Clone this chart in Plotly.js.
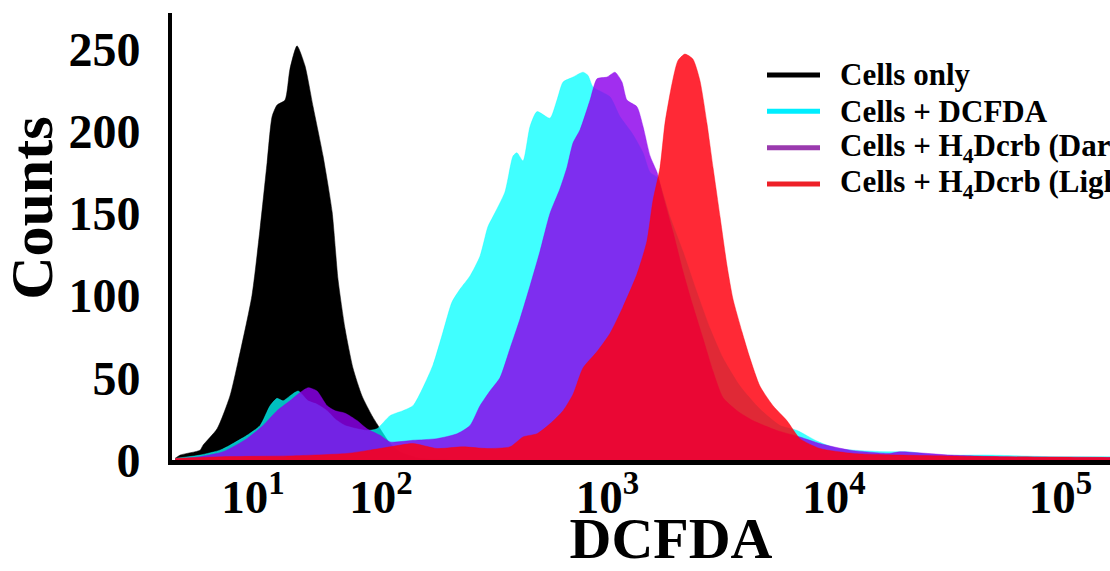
<!DOCTYPE html>
<html>
<head>
<meta charset="utf-8">
<script src="https://cdn.plot.ly/plotly-3.0.1.min.js"></script>
<style>
  html, body { margin: 0; padding: 0; overflow: hidden; background: #fff; }
  #chart { width: 1180px; height: 571px; }
</style>
</head>
<body>
<div id="chart"></div>
<script>
// x values are in display-channel units of the (biexponential-like) DCFDA scale
// tick positions: 10^1 .. 10^5
const tickPos = [1.435, 2, 3, 4, 5];
const tickText = ["10<sup>1</sup>", "10<sup>2</sup>", "10<sup>3</sup>", "10<sup>4</sup>", "10<sup>5</sup>"];
const yTicks = [0, 50, 100, 150, 200, 250];

const seriesNames = [
  "Cells only",
  "Cells + DCFDA",
  "Cells + H<sub>4</sub>Dcrb (Dark)",
  "Cells + H<sub>4</sub>Dcrb (Light)"
];

const blackX = [1.091, 1.113, 1.201, 1.214, 1.276, 1.333, 1.369, 1.430, 1.466, 1.497, 1.519, 1.541, 1.576, 1.598, 1.629, 1.664, 1.700, 1.744, 1.784, 1.810, 1.841, 1.876, 1.916, 1.960, 1.996, 2.040, 2.084, 2.172, 2.300];
const blackY = [1, 3, 6, 9, 19, 39, 60, 100, 141, 181, 209, 216, 219, 238, 252, 240, 215, 185, 151, 110, 80, 56, 39, 27, 19, 10, 5, 1, 0];

const cyanX = [1.091, 1.201, 1.289, 1.333, 1.408, 1.466, 1.510, 1.541, 1.567, 1.598, 1.634, 1.678, 1.717, 1.762, 1.797, 1.841, 1.894, 1.938, 1.982, 2.040, 2.097, 2.141, 2.185, 2.230, 2.274, 2.313, 2.349, 2.393, 2.437, 2.472, 2.494, 2.547, 2.583, 2.600, 2.627, 2.658, 2.689, 2.746, 2.777, 2.804, 2.848, 2.892, 2.914, 2.936, 3.011, 3.055, 3.108, 3.157, 3.188, 3.219, 3.276, 3.333, 3.395, 3.453, 3.510, 3.585, 3.673, 3.762, 3.837, 3.925, 4.013, 4.084, 4.234, 4.322, 4.455, 4.675, 4.967, 5.219, 5.460];
const cyanY = [1, 3, 6, 9, 15, 21, 33, 37.5, 36, 39, 42, 36, 34, 30, 25, 21, 19, 18, 19, 27, 30, 33, 44, 58, 78, 96, 104, 112, 124, 142, 148, 163, 185, 187, 182, 203, 212, 208, 219, 230, 233, 236, 234, 227, 221, 209, 199, 187, 175, 172, 148, 127, 102, 80, 62, 45, 31, 21, 18, 11.5, 7, 6, 5, 5, 3, 3, 2, 2, 1.5];

const purpleX = [1.091, 1.201, 1.302, 1.408, 1.479, 1.541, 1.598, 1.642, 1.678, 1.717, 1.762, 1.797, 1.841, 1.894, 1.938, 1.996, 2.040, 2.141, 2.247, 2.336, 2.393, 2.437, 2.481, 2.525, 2.570, 2.614, 2.658, 2.702, 2.746, 2.790, 2.821, 2.848, 2.879, 2.923, 2.954, 2.998, 3.033, 3.064, 3.086, 3.130, 3.157, 3.188, 3.219, 3.245, 3.289, 3.333, 3.377, 3.422, 3.466, 3.510, 3.572, 3.642, 3.748, 3.850, 3.938, 4.071, 4.247, 4.291, 4.512, 4.733, 5.219, 5.460];
const purpleY = [0.5, 2, 5, 13, 21, 30, 36, 41, 44, 42, 33, 30, 28.5, 24, 19, 15, 11, 12, 13, 16, 21, 33, 42, 50, 68, 86, 106, 127, 150, 165, 178, 193, 201, 219, 232, 233, 236, 230, 219, 215, 203, 185, 175, 161, 139, 115, 94, 74, 54, 38, 30, 24, 18, 14, 10, 6, 4, 5, 3, 2, 1.5, 1];

const redX = [1.091, 1.300, 1.600, 1.850, 1.951, 2.040, 2.141, 2.247, 2.362, 2.468, 2.570, 2.627, 2.689, 2.746, 2.804, 2.848, 2.892, 2.954, 3.011, 3.068, 3.130, 3.174, 3.201, 3.232, 3.254, 3.285, 3.311, 3.342, 3.377, 3.408, 3.439, 3.466, 3.497, 3.528, 3.554, 3.594, 3.629, 3.673, 3.731, 3.792, 3.850, 3.938, 4.084, 4.291, 4.733, 5.219, 5.460];
const redY = [1, 2, 2.5, 4, 6, 8, 10, 7, 8, 7, 8, 14, 16, 22, 30, 40, 56, 66, 77, 93, 113, 133, 158, 178, 205, 229, 243, 247, 244, 231, 205, 178, 148, 118, 98, 78, 62, 45, 33, 24, 13, 7, 4, 3, 2, 1.5, 1];

const fillColors = ["rgb(0,0,0)", "rgba(0,255,255,0.75)", "rgba(140,0,235,0.82)", "rgba(255,0,15,0.84)"];
const legendColors = ["#000000", "#00eeff", "#9a3aae", "#ee2028"];

const xs = [blackX, cyanX, purpleX, redX];
const ys = [blackY, cyanY, purpleY, redY];

const serif = "Liberation Serif, Times New Roman, serif";
const traces = [];
for (let i = 0; i < 4; i++) {
  traces.push({
    x: xs[i], y: ys[i], type: "scatter", mode: "lines",
    name: seriesNames[i],
    fill: "tozeroy", fillcolor: fillColors[i],
    line: { color: fillColors[i], width: 0.5, shape: "spline", smoothing: 0.6 },
    showlegend: false, hoverinfo: "skip"
  });
}

// legend key drawn in paper space (line sample + label per series)
const legendTop = 0.8613, legendStep = 0.0813;
const shapes = [];
const annotations = [];
for (let i = 0; i < 4; i++) {
  const yy = legendTop - i * legendStep;
  shapes.push({
    type: "line", xref: "paper", yref: "paper",
    x0: 0.5962, x1: 0.6493, y0: yy, y1: yy,
    line: { color: legendColors[i], width: 5 }
  });
  annotations.push({
    text: seriesNames[i], xref: "paper", yref: "paper",
    x: 0.6673, y: yy, xanchor: "left", yanchor: "middle", showarrow: false,
    font: { family: serif, size: 31, color: "#000", weight: 700 }
  });
}
annotations.push({
  text: "Counts", textangle: -90,
  xref: "paper", yref: "paper", x: -0.1403, y: 0.564,
  xanchor: "center", yanchor: "middle", showarrow: false,
  font: { family: serif, size: 60, color: "#000", weight: 700 }
});

const layout = {
  width: 1180, height: 571,
  margin: { l: 172, r: 10, t: 13, b: 111 },
  paper_bgcolor: "#fff", plot_bgcolor: "#fff",
  showlegend: false,
  xaxis: {
    range: [1.077, 5.484],
    tickvals: tickPos, ticktext: tickText,
    showline: true, linecolor: "#000", linewidth: 5,
    showgrid: false, zeroline: false, ticks: "",
    ticklabelstandoff: -8,
    tickfont: { family: serif, size: 47, color: "#000", weight: 700 },
    title: { text: "DCFDA", font: { family: serif, size: 58, color: "#000", weight: 700 }, standoff: 20 }
  },
  yaxis: {
    range: [0, 272],
    tickvals: yTicks,
    showline: true, linecolor: "#000", linewidth: 4,
    showgrid: false, zeroline: false, ticks: "",
    ticklabelstandoff: 18,
    tickfont: { family: serif, size: 48, color: "#000", weight: 700 }
  },
  shapes: shapes,
  annotations: annotations
};

Plotly.newPlot("chart", traces, layout, { displayModeBar: false, staticPlot: true });
</script>
</body>
</html>
